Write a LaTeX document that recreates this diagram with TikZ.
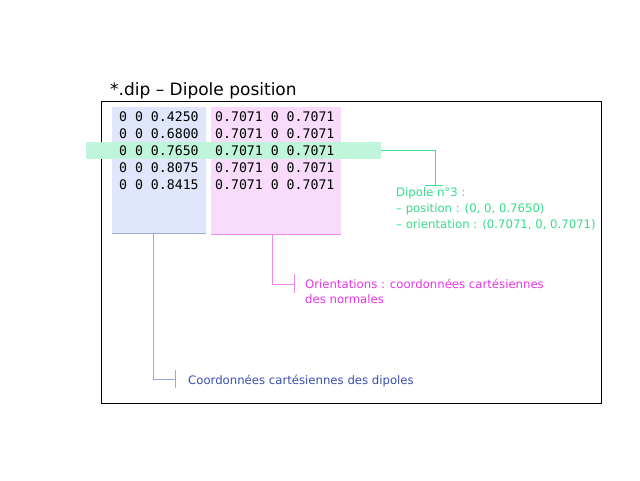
\documentclass[tikz,border=0pt]{standalone}
\usepackage{fontspec}
\setmainfont{DejaVu Sans}
\newfontfamily\monof{DejaVu Sans Mono}
\definecolor{bluefill}{HTML}{E0E6FB}
\definecolor{blueline}{HTML}{9AAAE0}
\definecolor{bluetext}{HTML}{3A4DB0}
\definecolor{pinkfill}{HTML}{F9DCFB}
\definecolor{pinkline}{HTML}{EE88EE}
\definecolor{pinktext}{HTML}{E535E8}
\definecolor{greenfill}{HTML}{BFF5DA}
\definecolor{greenline}{HTML}{40E090}
\definecolor{greentext}{HTML}{33DD88}
\tikzset{
  rowtxt/.style={anchor=base west,inner sep=0pt,font=\monof\fontsize{13.2}{14}\selectfont},
  lbl/.style={anchor=base west,inner sep=0pt,font=\fontsize{11.7}{16}\selectfont,align=left},
  conn/.style={line width=1pt}
}
\begin{document}
\begin{tikzpicture}[x=1pt,y=-1pt]
\useasboundingbox (0,0) rectangle (640,480);
% frame
\node[draw=black,line width=1pt,minimum width=500pt,minimum height=302pt,anchor=north west,inner sep=0pt] (frame) at (101,101) {};
\node[anchor=base west,inner sep=0pt,font=\fontsize{17}{20}\selectfont] (title) at (110,95) {*.dip -- Dipole position};
% columns
\node[fill=bluefill,minimum width=94pt,minimum height=126pt,anchor=north west,inner sep=0pt] (bluebox) at (112,107) {};
\node[fill=pinkfill,minimum width=130pt,minimum height=127pt,anchor=north west,inner sep=0pt] (pinkbox) at (211,107) {};
\draw[blueline,conn] (bluebox.south west) -- (bluebox.south east);
\draw[pinkline,conn] (pinkbox.south west) -- (pinkbox.south east);
% green band
\node[fill=greenfill,minimum width=295pt,minimum height=17pt,anchor=north west,inner sep=0pt] (band) at (86,142) {};
% rows
\node[rowtxt] (r1a) at (119,121) {0 0 0.4250};
\node[rowtxt] (r2a) at (119,138) {0 0 0.6800};
\node[rowtxt] (r3a) at (119,155) {0 0 0.7650};
\node[rowtxt] (r4a) at (119,172) {0 0 0.8075};
\node[rowtxt] (r5a) at (119,189) {0 0 0.8415};
\node[rowtxt] (r1b) at (215,121) {0.7071 0 0.7071};
\node[rowtxt] (r2b) at (215,138) {0.7071 0 0.7071};
\node[rowtxt] (r3b) at (215,155) {0.7071 0 0.7071};
\node[rowtxt] (r4b) at (215,172) {0.7071 0 0.7071};
\node[rowtxt] (r5b) at (215,189) {0.7071 0 0.7071};
% green connector
\coordinate (g1) at (435,185);
\draw[greenline,conn] (band.east) -| (g1);
\draw[greenline,conn] (425,185) -- (443,185);
\node[lbl,text=greentext] (gtxt) at (396,228) {Dipole n°3 :\\-- position : (0, 0, 0.7650)\\-- orientation : (0.7071, 0, 0.7071)};
% pink connector
\coordinate (p1) at (272,234);
\coordinate (p2) at (294,284);
\draw[pinkline,conn] (p1) |- (p2);
\draw[pinkline,conn] (294,274) -- (294,293);
\node[lbl,text=pinktext,font=\fontsize{11.7}{15}\selectfont] (ptxt) at (305,303) {Orientations : coordonnées cartésiennes\\des normales};
% blue connector
\coordinate (b1) at (153,234);
\coordinate (b2) at (175,379);
\draw[blueline,conn] (b1) |- (b2);
\draw[blueline,conn] (175,370) -- (175,388);
\node[lbl,text=bluetext] (btxt) at (188,384) {Coordonnées cartésiennes des dipoles};
\end{tikzpicture}
\end{document}
